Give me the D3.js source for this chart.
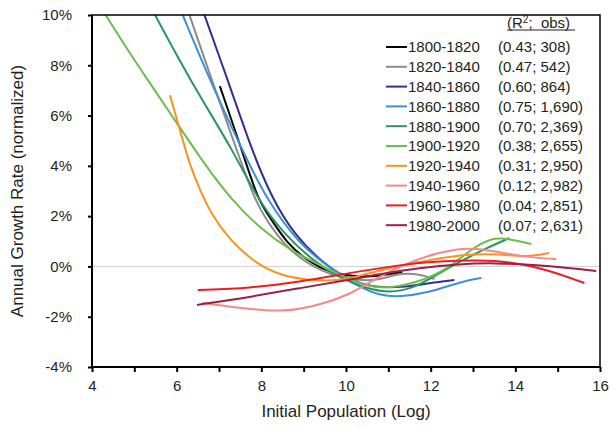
<!DOCTYPE html>
<meta charset="utf-8">
<style>
body { margin: 0; background: #fff; }
svg text { font-family: "Liberation Sans", Arial, sans-serif; fill: #231f20; }
.axis path, .axis line { stroke: #000; stroke-width: 2px; }
.axis text { font-size: 15px; }
.curve { fill: none; stroke-width: 2px; }
</style>
<svg width="611" height="430"></svg>
<script src="https://cdn.jsdelivr.net/npm/d3@7"></script>
<script>

// periods and legend stats
var periods = ["1800-1820", "1820-1840", "1840-1860", "1860-1880", "1880-1900",
               "1900-1920", "1920-1940", "1940-1960", "1960-1980", "1980-2000"];
var stats = ["(0.43; 308)", "(0.47; 542)", "(0.60; 864)", "(0.75; 1,690)", "(0.70; 2,369)",
             "(0.38; 2,655)", "(0.31; 2,950)", "(0.12; 2,982)", "(0.04; 2,851)", "(0.07; 2,631)"];
var colors = ["#000000", "#8c8c8c", "#2e3192", "#3f8fd6", "#2b9464",
              "#6abf4b", "#f7941d", "#f4888a", "#ed1c24", "#9e1f46"];

var xTicks = [4, 6, 8, 10, 12, 14, 16];
var yTicks = [-4, -2, 0, 2, 4, 6, 8, 10];

// fitted curves: [log population, growth %]
var s1800 = [[7.02, 7.17], [7.54, 4.63], [7.92, 2.64], [8.20, 1.96], [8.60, 0.93], [9.07, 0.25],
             [9.61, -0.26], [10.32, -0.42], [10.79, -0.38], [11.33, -0.22]];
var s1820 = [[6.2, 10.5], [6.83, 7.41], [7.42, 4.63], [7.84, 2.64], [8.15, 1.77], [8.55, 0.85],
             [9.02, 0.18], [9.61, -0.34], [10.32, -0.58], [10.79, -0.54], [11.26, -0.26],
             [11.74, -0.30], [12.09, -0.50]];
var s1840 = [[6.55, 10.5], [7.21, 7.41], [7.77, 4.63], [8.27, 2.64], [8.79, 1.25], [9.38, 0.25],
             [9.97, -0.46], [10.63, -0.86], [11.43, -0.82], [11.97, -0.66], [12.56, -0.54]];
var s1860 = [[6.02, 10.5], [6.78, 7.41], [7.55, 4.63], [8.13, 2.64], [8.91, 0.85], [9.68, -0.14],
             [10.32, -0.82], [10.79, -1.15], [11.26, -1.22], [11.97, -1.03], [12.56, -0.70],
             [12.92, -0.54], [13.20, -0.46]];
var s1880 = [[5.3, 10.6], [6.31, 7.41], [7.33, 4.63], [7.89, 2.72], [8.55, 1.25], [9.26, 0.18],
             [9.85, -0.46], [10.44, -0.86], [11.03, -1.06], [11.62, -0.86], [12.21, -0.26],
             [12.68, 0.18], [13.32, 0.73], [13.86, 1.13]];
var s1900 = [[4.1, 10.6], [4.78, 8.77], [5.32, 7.41], [5.96, 5.82], [6.67, 4.03], [7.30, 2.64],
             [7.96, 1.53], [8.67, 0.65], [9.38, 0.06], [10.08, -0.54], [10.79, -0.94],
             [11.67, -0.66], [12.37, -0.14], [12.92, 0.65], [13.46, 1.17], [13.86, 1.09],
             [14.38, 0.89]];
var s1920 = [[5.84, 6.81], [6.08, 5.41], [6.31, 4.02], [6.55, 3.04], [6.83, 2.04], [7.25, 1.05],
             [7.96, -0.02], [8.67, -0.46], [9.45, -0.58], [9.97, -0.54], [10.56, -0.26],
             [11.26, 0.02], [12.21, 0.33], [12.92, 0.49], [13.62, 0.49], [14.26, 0.37], [14.80, 0.53]];
var s1940 = [[6.6, -1.45], [7.49, -1.65], [8.36, -1.81], [9.14, -1.65], [10.08, -1.14],
             [10.63, -0.54], [11.43, 0.14], [12.21, 0.57], [12.92, 0.77], [13.62, 0.57],
             [14.26, 0.37], [14.97, 0.29]];
var s1960 = [[6.50, -0.94], [7.73, -0.86], [8.90, -0.62], [10.08, -0.26], [11.26, 0.06],
             [12.21, 0.21], [13.15, 0.25], [13.86, 0.18], [14.57, -0.06], [15.04, -0.30], [15.63, -0.66]];
var s1980 = [[6.48, -1.53], [7.73, -1.22], [8.90, -0.86], [10.08, -0.54], [10.79, -0.30],
             [11.74, -0.06], [12.68, 0.10], [13.50, 0.14], [14.45, 0.06], [15.27, -0.06], [15.91, -0.18]];

var series = [s1800, s1820, s1840, s1860, s1880, s1900, s1920, s1940, s1960, s1980];

var svg = d3.select("svg"),
    margin = {top: 15, right: 10, bottom: 63, left: 92},
    width = 600 - margin.left,
    height = 367 - margin.top;

var x = d3.scaleLinear().domain([4, 16]).range([0, width]),
    y = d3.scaleLinear().domain([-4, 10]).range([height, 0]);

var g = svg.append("g")
    .attr("transform", "translate(" + margin.left + "," + margin.top + ")");

g.append("clipPath").attr("id", "clip")
  .append("rect").attr("width", width).attr("height", height);

// zero line
g.append("line")
    .attr("x1", 0).attr("x2", width)
    .attr("y1", y(0)).attr("y2", y(0))
    .attr("stroke", "#d0d0d0").attr("stroke-width", 1);

var line = d3.line()
    .x(function(d) { return x(d[0]); })
    .y(function(d) { return y(d[1]); })
    .curve(d3.curveBasis);

g.append("g").attr("clip-path", "url(#clip)")
  .selectAll(".curve")
  .data(series)
  .enter().append("path")
    .attr("class", "curve")
    .attr("stroke", function(d, i) { return colors[i]; })
    .attr("d", line);

// frame
g.append("rect")
    .attr("width", width).attr("height", height)
    .attr("fill", "none").attr("stroke", "#000").attr("stroke-width", 1.5);

g.append("g")
    .attr("class", "axis axis--x")
    .attr("transform", "translate(0," + height + ")")
    .call(d3.axisBottom(x).ticks(12).tickSize(5).tickPadding(8)
      .tickFormat(function(d) { return xTicks.indexOf(d) >= 0 ? d : ""; }))
    .call(function(a) { a.select(".domain").remove(); });

g.append("g")
    .attr("class", "axis axis--y")
    .call(d3.axisLeft(y).tickValues(yTicks).tickSize(4).tickPadding(16)
      .tickFormat(function(d) { return d + "%"; }))
    .call(function(a) { a.select(".domain").remove(); });

g.append("line").attr("x1", 0).attr("x2", 0).attr("y1", 0).attr("y2", height)
    .attr("stroke", "#000").attr("stroke-width", 2);
g.append("line").attr("x1", 0).attr("x2", width).attr("y1", height).attr("y2", height)
    .attr("stroke", "#000").attr("stroke-width", 2);

svg.append("text")
    .attr("x", margin.left + width / 2).attr("y", 417)
    .attr("text-anchor", "middle")
    .style("font-size", "17px")
    .text("Initial Population (Log)");

svg.append("text")
    .attr("transform", "translate(23," + (margin.top + height / 2) + ") rotate(-90)")
    .attr("text-anchor", "middle")
    .style("font-size", "17px")
    .text("Annual Growth Rate (normalized)");

// legend
var lg = svg.append("g").style("font-size", "15px");

var head = lg.append("text").attr("x", 507).attr("y", 28);
head.append("tspan").text("(R");
head.append("tspan").attr("dy", -5).style("font-size", "10px").text("2");
head.append("tspan").attr("dy", 5).text(";\u00a0\u00a0obs)");
lg.append("line").attr("x1", 507).attr("x2", 575).attr("y1", 30).attr("y2", 30)
    .attr("stroke", "#231f20").attr("stroke-width", 1);

var row = lg.selectAll(".row")
  .data(periods)
  .enter().append("g")
    .attr("class", "row")
    .attr("transform", function(d, i) { return "translate(0," + (47 + i * 19.8) + ")"; });

row.append("line")
    .attr("x1", 386).attr("x2", 407)
    .attr("stroke", function(d, i) { return colors[i]; })
    .attr("stroke-width", 2);

row.append("text")
    .attr("x", 408).attr("dy", "0.36em")
    .text(function(d) { return d; });

row.append("text")
    .attr("x", 498).attr("dy", "0.36em")
    .text(function(d, i) { return stats[i]; });

</script>
